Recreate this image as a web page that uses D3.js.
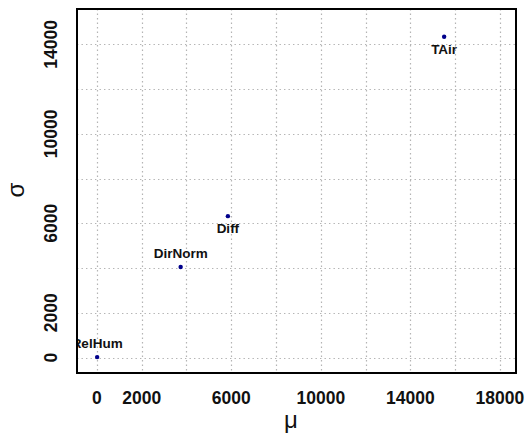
<!DOCTYPE html>
<html>
<head>
<meta charset="utf-8">
<script src="https://cdn.jsdelivr.net/npm/d3@7"></script>
<style>
  html, body { margin: 0; padding: 0; background: #fff; }
  svg { display: block; }
</style>
</head>
<body>
<svg id="chart" width="528" height="437"></svg>
<script>
// Variables: mean (mu) against standard deviation (sigma)
const names = ["RelHum", "DirNorm", "Diff", "TAir"];
const mu = [10, 3740, 5850, 15510];
const sigma = [20, 4050, 6320, 14340];
// label side: "above" or "below" the point
const labelSide = ["above", "above", "below", "below"];

const xLim = [-890, 18720];
const yLim = [-690, 15580];
const xGrid = d3.range(0, 18001, 2000);
const yGrid = d3.range(0, 14001, 2000);
const xTickLabels = [0, 2000, 6000, 10000, 14000, 18000];
const yTickLabels = [0, 2000, 6000, 10000, 14000];

const plot = { left: 77, right: 516, top: 9, bottom: 373 };

const svg = d3.select("#chart");
const x = d3.scaleLinear().domain(xLim).range([plot.left, plot.right]);
const y = d3.scaleLinear().domain(yLim).range([plot.bottom, plot.top]);

svg.append("defs").append("clipPath").attr("id", "plotclip")
  .append("rect")
  .attr("x", plot.left).attr("y", plot.top)
  .attr("width", plot.right - plot.left).attr("height", plot.bottom - plot.top);

// dotted grid
const grid = svg.append("g").attr("stroke", "#b4b4b4").attr("stroke-width", 1.2)
  .attr("stroke-dasharray", "1.4,3.1");
grid.selectAll("line.v").data(xGrid).join("line")
  .attr("x1", d => Math.round(x(d)) + 0.5).attr("x2", d => Math.round(x(d)) + 0.5)
  .attr("y1", plot.top).attr("y2", plot.bottom);
grid.selectAll("line.h").data(yGrid).join("line")
  .attr("y1", d => Math.round(y(d)) + 0.5).attr("y2", d => Math.round(y(d)) + 0.5)
  .attr("x1", plot.left).attr("x2", plot.right);

// tick labels
const tickFont = "Liberation Sans, Arial, sans-serif";
svg.append("g").selectAll("text").data(xTickLabels).join("text")
  .attr("x", d => x(d)).attr("y", 404)
  .attr("text-anchor", "middle")
  .attr("font-family", tickFont).attr("font-weight", "bold").attr("font-size", 17.5)
  .attr("fill", "#111")
  .text(d => d);
svg.append("g").selectAll("text").data(yTickLabels).join("text")
  .attr("transform", d => `translate(57,${y(d)}) rotate(-90)`)
  .attr("text-anchor", "middle")
  .attr("font-family", tickFont).attr("font-weight", "bold").attr("font-size", 17.5)
  .attr("fill", "#111")
  .text(d => d);

// axis titles
svg.append("text").attr("x", 291).attr("y", 428).attr("text-anchor", "middle")
  .attr("font-family", tickFont).attr("font-size", 24).attr("fill", "#111").text("μ");
svg.append("text").attr("transform", "translate(24,190) rotate(-90)").attr("text-anchor", "middle")
  .attr("font-family", tickFont).attr("font-size", 24).attr("fill", "#111").text("σ");

// points and labels
const data = names.map((n, i) => ({ name: n, mu: mu[i], sigma: sigma[i], side: labelSide[i] }));
const marks = svg.append("g").attr("clip-path", "url(#plotclip)");
marks.selectAll("circle").data(data).join("circle")
  .attr("cx", d => x(d.mu)).attr("cy", d => y(d.sigma)).attr("r", 2.2)
  .attr("fill", "#00008b");
marks.selectAll("text").data(data).join("text")
  .attr("x", d => x(d.mu))
  .attr("y", d => y(d.sigma) + (d.side === "above" ? -9 : 17))
  .attr("text-anchor", "middle")
  .attr("font-family", tickFont).attr("font-weight", "bold").attr("font-size", 13.5)
  .attr("fill", "#111")
  .text(d => d.name);

// frame
svg.append("rect")
  .attr("x", plot.left).attr("y", plot.top)
  .attr("width", plot.right - plot.left).attr("height", plot.bottom - plot.top)
  .attr("fill", "none").attr("stroke", "#000").attr("stroke-width", 2);
</script>
</body>
</html>
